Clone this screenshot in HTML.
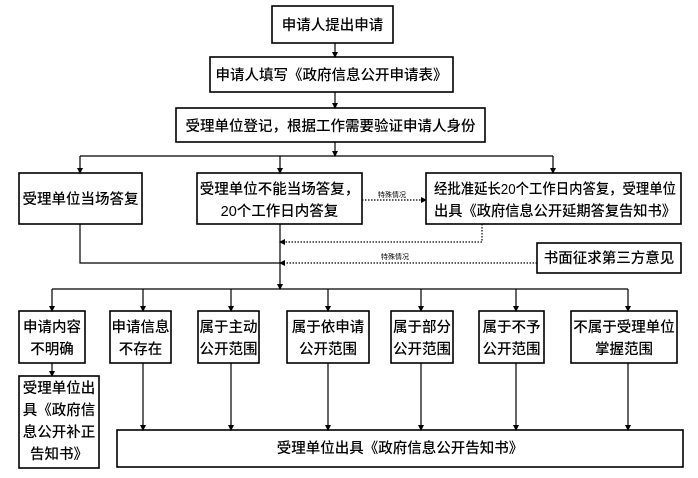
<!DOCTYPE html>
<html><head><meta charset="utf-8"><style>
html,body{margin:0;padding:0;background:#fff;}
svg{display:block;}
text{font-family:"Liberation Sans","Noto Sans CJK SC",sans-serif;font-size:14.5px;fill:#000;font-weight:500;}
.s{font-size:7px;font-weight:normal;}
</style></head><body>
<svg width="698" height="478" viewBox="0 0 698 478" xmlns="http://www.w3.org/2000/svg">
<defs>
<marker id="a" markerWidth="6" markerHeight="6" refX="5" refY="3" orient="auto" markerUnits="userSpaceOnUse">
<path d="M0,0 L6,3 L0,6 z" fill="#000"/></marker>
</defs>
<g fill="none" stroke="#000" stroke-width="1.6">
<rect x="272" y="6" width="121" height="37"/>
<rect x="210" y="57" width="243" height="35"/>
<rect x="176" y="108" width="309" height="34"/>
<rect x="19" y="173" width="123" height="51"/>
<rect x="197" y="173" width="165" height="51"/>
<rect x="426" y="173" width="255" height="51"/>
<rect x="537" y="243" width="144" height="30"/>
<rect x="19" y="311" width="66" height="52"/>
<rect x="110" y="311" width="61" height="52"/>
<rect x="198" y="311" width="61" height="52"/>
<rect x="287" y="311" width="82" height="52"/>
<rect x="391" y="311" width="62" height="52"/>
<rect x="479" y="311" width="65" height="52"/>
<rect x="571" y="311" width="106" height="52"/>
<rect x="19" y="376" width="80" height="92"/>
<rect x="117" y="430" width="566" height="37"/>
</g>
<g fill="none" stroke="#000" stroke-width="1.2">
<line x1="335" y1="43" x2="335" y2="57" marker-end="url(#a)"/>
<line x1="335" y1="92" x2="335" y2="108" marker-end="url(#a)"/>
<line x1="335" y1="142" x2="335" y2="156" marker-end="url(#a)"/>
<line x1="80" y1="156" x2="553" y2="156"/>
<line x1="80" y1="156" x2="80" y2="173" marker-end="url(#a)"/>
<line x1="280" y1="156" x2="280" y2="173" marker-end="url(#a)"/>
<line x1="553" y1="156" x2="553" y2="173" marker-end="url(#a)"/>
<polyline points="80,224 80,263 280,263"/>
<line x1="280" y1="224" x2="280" y2="289" marker-end="url(#a)"/>
<line x1="52" y1="289" x2="628" y2="289"/>
<line x1="52" y1="289" x2="52" y2="311" marker-end="url(#a)"/>
<line x1="143" y1="289" x2="143" y2="311" marker-end="url(#a)"/>
<line x1="231" y1="289" x2="231" y2="311" marker-end="url(#a)"/>
<line x1="328" y1="289" x2="328" y2="311" marker-end="url(#a)"/>
<line x1="421" y1="289" x2="421" y2="311" marker-end="url(#a)"/>
<line x1="516" y1="289" x2="516" y2="311" marker-end="url(#a)"/>
<line x1="628" y1="289" x2="628" y2="311" marker-end="url(#a)"/>
<line x1="52" y1="363" x2="52" y2="376" marker-end="url(#a)"/>
<line x1="143" y1="363" x2="143" y2="430" marker-end="url(#a)"/>
<line x1="231" y1="363" x2="231" y2="430" marker-end="url(#a)"/>
<line x1="328" y1="363" x2="328" y2="430" marker-end="url(#a)"/>
<line x1="421" y1="363" x2="421" y2="430" marker-end="url(#a)"/>
<line x1="516" y1="363" x2="516" y2="430" marker-end="url(#a)"/>
<line x1="628" y1="363" x2="628" y2="430" marker-end="url(#a)"/>
</g>
<g fill="none" stroke="#000" stroke-width="1.2" stroke-dasharray="1.5,1.5">
<line x1="362" y1="200" x2="426" y2="200" marker-end="url(#a)"/>
<polyline points="482,224 482,242 280,242" marker-end="url(#a)"/>
<line x1="537" y1="263" x2="280" y2="263" marker-end="url(#a)"/>
</g>
<text x="332.5" y="30" text-anchor="middle">申请人提出申请</text>
<text x="331.5" y="80" text-anchor="middle">申请人填写《政府信息公开申请表》</text>
<text x="330.5" y="131" text-anchor="middle">受理单位登记，根据工作需要验证申请人身份</text>
<text x="80.5" y="204" text-anchor="middle">受理单位当场答复</text>
<text x="279.5" y="194" text-anchor="middle">受理单位不能当场答复，</text>
<text x="279.5" y="216" text-anchor="middle">20个工作日内答复</text>
<text x="434" y="194" textLength="242" lengthAdjust="spacingAndGlyphs">经批准延长20个工作日内答复，受理单位</text>
<text x="434" y="216" textLength="242" lengthAdjust="spacingAndGlyphs">出具《政府信息公开延期答复告知书》</text>
<text x="609" y="263" text-anchor="middle">书面征求第三方意见</text>
<text class="s" x="392" y="197" text-anchor="middle">特殊情况</text>
<text class="s" x="395" y="259" text-anchor="middle">特殊情况</text>
<text x="52" y="332" text-anchor="middle">申请内容</text>
<text x="52" y="354" text-anchor="middle">不明确</text>
<text x="140.5" y="332" text-anchor="middle">申请信息</text>
<text x="140.5" y="354" text-anchor="middle">不存在</text>
<text x="228.5" y="332" text-anchor="middle">属于主动</text>
<text x="228.5" y="354" text-anchor="middle">公开范围</text>
<text x="328" y="332" text-anchor="middle">属于依申请</text>
<text x="328" y="354" text-anchor="middle">公开范围</text>
<text x="422" y="332" text-anchor="middle">属于部分</text>
<text x="422" y="354" text-anchor="middle">公开范围</text>
<text x="511.5" y="332" text-anchor="middle">属于不予</text>
<text x="511.5" y="354" text-anchor="middle">公开范围</text>
<text x="624" y="332" text-anchor="middle">不属于受理单位</text>
<text x="624" y="354" text-anchor="middle">掌握范围</text>
<text x="59" y="393" text-anchor="middle">受理单位出</text>
<text x="59" y="415" text-anchor="middle">具《政府信</text>
<text x="59" y="437" text-anchor="middle">息公开补正</text>
<text x="59" y="459" text-anchor="middle">告知书》</text>
<text x="400" y="453" text-anchor="middle">受理单位出具《政府信息公开告知书》</text>
</svg>
</body></html>
